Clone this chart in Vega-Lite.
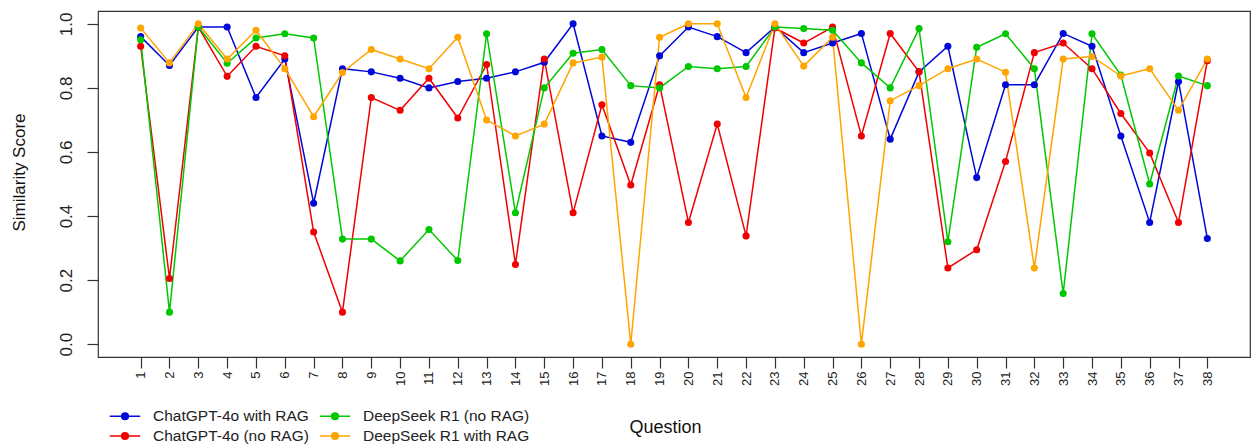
{
  "$schema": "https://vega.github.io/schema/vega-lite/v6.json",
  "width": 1152,
  "height": 346,
  "autosize": {"type": "none"},
  "padding": {"left": 98, "top": 11, "right": 2, "bottom": 90},
  "background": "white",
  "config": {
    "font": "Liberation Sans",
    "view": {"stroke": "#333333", "strokeWidth": 1.2},
    "legend": {"padding": 0, "offset": 0}
  },
  "data": {"values": [
    {"q":1,"m":"ChatGPT-4o with RAG","s":0.96},{"q":2,"m":"ChatGPT-4o with RAG","s":0.87},{"q":3,"m":"ChatGPT-4o with RAG","s":0.99},{"q":4,"m":"ChatGPT-4o with RAG","s":0.99},{"q":5,"m":"ChatGPT-4o with RAG","s":0.77},{"q":6,"m":"ChatGPT-4o with RAG","s":0.89},{"q":7,"m":"ChatGPT-4o with RAG","s":0.44},{"q":8,"m":"ChatGPT-4o with RAG","s":0.86},{"q":9,"m":"ChatGPT-4o with RAG","s":0.85},{"q":10,"m":"ChatGPT-4o with RAG","s":0.83},{"q":11,"m":"ChatGPT-4o with RAG","s":0.80},{"q":12,"m":"ChatGPT-4o with RAG","s":0.82},{"q":13,"m":"ChatGPT-4o with RAG","s":0.83},{"q":14,"m":"ChatGPT-4o with RAG","s":0.85},{"q":15,"m":"ChatGPT-4o with RAG","s":0.88},{"q":16,"m":"ChatGPT-4o with RAG","s":1.00},{"q":17,"m":"ChatGPT-4o with RAG","s":0.65},{"q":18,"m":"ChatGPT-4o with RAG","s":0.63},{"q":19,"m":"ChatGPT-4o with RAG","s":0.90},{"q":20,"m":"ChatGPT-4o with RAG","s":0.99},{"q":21,"m":"ChatGPT-4o with RAG","s":0.96},{"q":22,"m":"ChatGPT-4o with RAG","s":0.91},{"q":23,"m":"ChatGPT-4o with RAG","s":0.99},{"q":24,"m":"ChatGPT-4o with RAG","s":0.91},{"q":25,"m":"ChatGPT-4o with RAG","s":0.94},{"q":26,"m":"ChatGPT-4o with RAG","s":0.97},{"q":27,"m":"ChatGPT-4o with RAG","s":0.64},{"q":28,"m":"ChatGPT-4o with RAG","s":0.85},{"q":29,"m":"ChatGPT-4o with RAG","s":0.93},{"q":30,"m":"ChatGPT-4o with RAG","s":0.52},{"q":31,"m":"ChatGPT-4o with RAG","s":0.81},{"q":32,"m":"ChatGPT-4o with RAG","s":0.81},{"q":33,"m":"ChatGPT-4o with RAG","s":0.97},{"q":34,"m":"ChatGPT-4o with RAG","s":0.93},{"q":35,"m":"ChatGPT-4o with RAG","s":0.65},{"q":36,"m":"ChatGPT-4o with RAG","s":0.38},{"q":37,"m":"ChatGPT-4o with RAG","s":0.82},{"q":38,"m":"ChatGPT-4o with RAG","s":0.33},
    {"q":1,"m":"ChatGPT-4o (no RAG)","s":0.93},{"q":2,"m":"ChatGPT-4o (no RAG)","s":0.205},{"q":3,"m":"ChatGPT-4o (no RAG)","s":0.99},{"q":4,"m":"ChatGPT-4o (no RAG)","s":0.836},{"q":5,"m":"ChatGPT-4o (no RAG)","s":0.93},{"q":6,"m":"ChatGPT-4o (no RAG)","s":0.90},{"q":7,"m":"ChatGPT-4o (no RAG)","s":0.35},{"q":8,"m":"ChatGPT-4o (no RAG)","s":0.10},{"q":9,"m":"ChatGPT-4o (no RAG)","s":0.77},{"q":10,"m":"ChatGPT-4o (no RAG)","s":0.73},{"q":11,"m":"ChatGPT-4o (no RAG)","s":0.83},{"q":12,"m":"ChatGPT-4o (no RAG)","s":0.706},{"q":13,"m":"ChatGPT-4o (no RAG)","s":0.873},{"q":14,"m":"ChatGPT-4o (no RAG)","s":0.249},{"q":15,"m":"ChatGPT-4o (no RAG)","s":0.89},{"q":16,"m":"ChatGPT-4o (no RAG)","s":0.41},{"q":17,"m":"ChatGPT-4o (no RAG)","s":0.747},{"q":18,"m":"ChatGPT-4o (no RAG)","s":0.497},{"q":19,"m":"ChatGPT-4o (no RAG)","s":0.81},{"q":20,"m":"ChatGPT-4o (no RAG)","s":0.38},{"q":21,"m":"ChatGPT-4o (no RAG)","s":0.687},{"q":22,"m":"ChatGPT-4o (no RAG)","s":0.338},{"q":23,"m":"ChatGPT-4o (no RAG)","s":0.987},{"q":24,"m":"ChatGPT-4o (no RAG)","s":0.94},{"q":25,"m":"ChatGPT-4o (no RAG)","s":0.99},{"q":26,"m":"ChatGPT-4o (no RAG)","s":0.65},{"q":27,"m":"ChatGPT-4o (no RAG)","s":0.97},{"q":28,"m":"ChatGPT-4o (no RAG)","s":0.85},{"q":29,"m":"ChatGPT-4o (no RAG)","s":0.238},{"q":30,"m":"ChatGPT-4o (no RAG)","s":0.295},{"q":31,"m":"ChatGPT-4o (no RAG)","s":0.57},{"q":32,"m":"ChatGPT-4o (no RAG)","s":0.91},{"q":33,"m":"ChatGPT-4o (no RAG)","s":0.94},{"q":34,"m":"ChatGPT-4o (no RAG)","s":0.86},{"q":35,"m":"ChatGPT-4o (no RAG)","s":0.72},{"q":36,"m":"ChatGPT-4o (no RAG)","s":0.597},{"q":37,"m":"ChatGPT-4o (no RAG)","s":0.38},{"q":38,"m":"ChatGPT-4o (no RAG)","s":0.885},
    {"q":1,"m":"DeepSeek R1 (no RAG)","s":0.95},{"q":2,"m":"DeepSeek R1 (no RAG)","s":0.10},{"q":3,"m":"DeepSeek R1 (no RAG)","s":0.99},{"q":4,"m":"DeepSeek R1 (no RAG)","s":0.877},{"q":5,"m":"DeepSeek R1 (no RAG)","s":0.956},{"q":6,"m":"DeepSeek R1 (no RAG)","s":0.969},{"q":7,"m":"DeepSeek R1 (no RAG)","s":0.956},{"q":8,"m":"DeepSeek R1 (no RAG)","s":0.328},{"q":9,"m":"DeepSeek R1 (no RAG)","s":0.328},{"q":10,"m":"DeepSeek R1 (no RAG)","s":0.26},{"q":11,"m":"DeepSeek R1 (no RAG)","s":0.358},{"q":12,"m":"DeepSeek R1 (no RAG)","s":0.261},{"q":13,"m":"DeepSeek R1 (no RAG)","s":0.969},{"q":14,"m":"DeepSeek R1 (no RAG)","s":0.41},{"q":15,"m":"DeepSeek R1 (no RAG)","s":0.80},{"q":16,"m":"DeepSeek R1 (no RAG)","s":0.908},{"q":17,"m":"DeepSeek R1 (no RAG)","s":0.92},{"q":18,"m":"DeepSeek R1 (no RAG)","s":0.807},{"q":19,"m":"DeepSeek R1 (no RAG)","s":0.80},{"q":20,"m":"DeepSeek R1 (no RAG)","s":0.867},{"q":21,"m":"DeepSeek R1 (no RAG)","s":0.86},{"q":22,"m":"DeepSeek R1 (no RAG)","s":0.867},{"q":23,"m":"DeepSeek R1 (no RAG)","s":0.99},{"q":24,"m":"DeepSeek R1 (no RAG)","s":0.985},{"q":25,"m":"DeepSeek R1 (no RAG)","s":0.98},{"q":26,"m":"DeepSeek R1 (no RAG)","s":0.878},{"q":27,"m":"DeepSeek R1 (no RAG)","s":0.80},{"q":28,"m":"DeepSeek R1 (no RAG)","s":0.985},{"q":29,"m":"DeepSeek R1 (no RAG)","s":0.32},{"q":30,"m":"DeepSeek R1 (no RAG)","s":0.927},{"q":31,"m":"DeepSeek R1 (no RAG)","s":0.969},{"q":32,"m":"DeepSeek R1 (no RAG)","s":0.86},{"q":33,"m":"DeepSeek R1 (no RAG)","s":0.158},{"q":34,"m":"DeepSeek R1 (no RAG)","s":0.969},{"q":35,"m":"DeepSeek R1 (no RAG)","s":0.84},{"q":36,"m":"DeepSeek R1 (no RAG)","s":0.50},{"q":37,"m":"DeepSeek R1 (no RAG)","s":0.837},{"q":38,"m":"DeepSeek R1 (no RAG)","s":0.807},
    {"q":1,"m":"DeepSeek R1 with RAG","s":0.987},{"q":2,"m":"DeepSeek R1 with RAG","s":0.878},{"q":3,"m":"DeepSeek R1 with RAG","s":1.0},{"q":4,"m":"DeepSeek R1 with RAG","s":0.89},{"q":5,"m":"DeepSeek R1 with RAG","s":0.98},{"q":6,"m":"DeepSeek R1 with RAG","s":0.86},{"q":7,"m":"DeepSeek R1 with RAG","s":0.71},{"q":8,"m":"DeepSeek R1 with RAG","s":0.848},{"q":9,"m":"DeepSeek R1 with RAG","s":0.92},{"q":10,"m":"DeepSeek R1 with RAG","s":0.89},{"q":11,"m":"DeepSeek R1 with RAG","s":0.86},{"q":12,"m":"DeepSeek R1 with RAG","s":0.958},{"q":13,"m":"DeepSeek R1 with RAG","s":0.70},{"q":14,"m":"DeepSeek R1 with RAG","s":0.65},{"q":15,"m":"DeepSeek R1 with RAG","s":0.687},{"q":16,"m":"DeepSeek R1 with RAG","s":0.878},{"q":17,"m":"DeepSeek R1 with RAG","s":0.896},{"q":18,"m":"DeepSeek R1 with RAG","s":0.0},{"q":19,"m":"DeepSeek R1 with RAG","s":0.958},{"q":20,"m":"DeepSeek R1 with RAG","s":1.0},{"q":21,"m":"DeepSeek R1 with RAG","s":1.0},{"q":22,"m":"DeepSeek R1 with RAG","s":0.77},{"q":23,"m":"DeepSeek R1 with RAG","s":1.0},{"q":24,"m":"DeepSeek R1 with RAG","s":0.868},{"q":25,"m":"DeepSeek R1 with RAG","s":0.958},{"q":26,"m":"DeepSeek R1 with RAG","s":0.0},{"q":27,"m":"DeepSeek R1 with RAG","s":0.76},{"q":28,"m":"DeepSeek R1 with RAG","s":0.807},{"q":29,"m":"DeepSeek R1 with RAG","s":0.86},{"q":30,"m":"DeepSeek R1 with RAG","s":0.89},{"q":31,"m":"DeepSeek R1 with RAG","s":0.849},{"q":32,"m":"DeepSeek R1 with RAG","s":0.238},{"q":33,"m":"DeepSeek R1 with RAG","s":0.89},{"q":34,"m":"DeepSeek R1 with RAG","s":0.898},{"q":35,"m":"DeepSeek R1 with RAG","s":0.837},{"q":36,"m":"DeepSeek R1 with RAG","s":0.86},{"q":37,"m":"DeepSeek R1 with RAG","s":0.73},{"q":38,"m":"DeepSeek R1 with RAG","s":0.89}
  ]},
  "encoding": {
    "x": {
      "field": "q", "type": "quantitative",
      "scale": {"domain": [-0.48, 39.48], "nice": false, "zero": false},
      "axis": {
        "values": [1,2,3,4,5,6,7,8,9,10,11,12,13,14,15,16,17,18,19,20,21,22,23,24,25,26,27,28,29,30,31,32,33,34,35,36,37,38],
        "title": "Question", "titleFontSize": 18, "titleFontWeight": "normal", "titleColor": "#111111",
        "titleX": 567, "titleY": 61, "titleBaseline": "top", "titleAlign": "center",
        "labelAngle": -90, "labelFontSize": 13, "labelColor": "#222222", "labelPadding": 3,
        "labelOverlap": false, "labelFlush": false,
        "grid": false, "domain": false, "tickSize": 11, "tickColor": "#333333", "tickWidth": 1.2
      }
    },
    "y": {
      "field": "s", "type": "quantitative",
      "scale": {"domain": [-0.04, 1.04], "nice": false, "zero": false},
      "axis": {
        "values": [0, 0.2, 0.4, 0.6, 0.8, 1.0], "format": ".1f",
        "title": "Similarity Score", "titleFontSize": 17, "titleFontWeight": "normal", "titleColor": "#111111",
        "titleX": -79, "titleY": 161, "titleAngle": -90, "titleAlign": "center", "titleBaseline": "middle",
        "labelAngle": -90, "labelFontSize": 17, "labelColor": "#222222", "labelPadding": 12,
        "grid": false, "domain": false, "tickSize": 11, "tickColor": "#333333", "tickWidth": 1.2
      }
    },
    "color": {
      "field": "m", "type": "nominal",
      "scale": {
        "domain": ["ChatGPT-4o with RAG", "ChatGPT-4o (no RAG)", "DeepSeek R1 (no RAG)", "DeepSeek R1 with RAG"],
        "range": ["#0008D8", "#F00000", "#00C800", "#FFA500"]
      },
      "legend": {
        "orient": "none", "legendX": 18, "legendY": 396, "columns": 2, "title": null,
        "labelFontSize": 15.5, "labelColor": "#222222", "labelOffset": 19, "labelLimit": 0,
        "symbolType": "M-1.9,0H1.9M-0.42,0A0.42,0.42 0 1,0 0.42,0A0.42,0.42 0 1,0 -0.42,0",
        "symbolSize": 256, "symbolStrokeWidth": 1.5, "symbolOpacity": 1,
        "columnPadding": 7, "rowPadding": 2
      }
    }
  },
  "layer": [
    {"mark": {"type": "line", "strokeWidth": 1.5}},
    {"mark": {"type": "point", "filled": true, "size": 50, "opacity": 1}}
  ]
}
